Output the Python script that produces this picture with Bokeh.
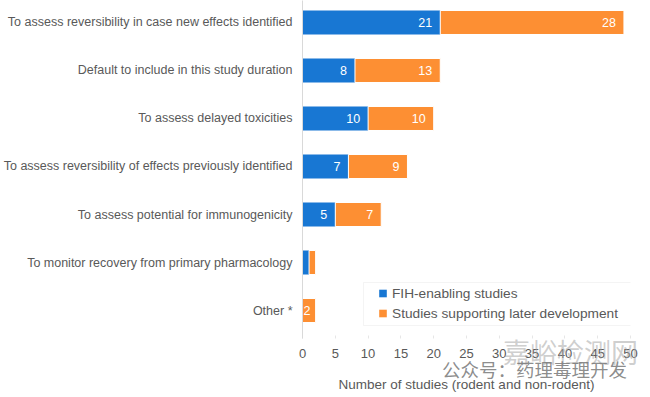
from bokeh.plotting import figure
from bokeh.models import ColumnDataSource, FixedTicker, Legend, LegendItem, Div, BoxAnnotation
from bokeh.layouts import column
from bokeh.embed import file_html
from bokeh.resources import INLINE
from bokeh.core.properties import value

categories = [
    "To assess reversibility in case new effects identified",
    "Default to include in this study duration",
    "To assess delayed toxicities",
    "To assess reversibility of effects previously identified",
    "To assess potential for immunogenicity",
    "To monitor recovery from primary pharmacology",
    "Other *",
]
fih = [21, 8, 10, 7, 5, 1, 0]
later = [28, 13, 10, 9, 7, 1, 2]
show_label = [True, True, True, True, True, False, True]
x_ticks = [0, 5, 10, 15, 20, 25, 30, 35, 40, 45, 50]

BLUE = "#1877D3"
ORANGE = "#FD8F33"
GRAY = "#595959"
FONT = "Liberation Sans"

n = len(categories)
ypos = [n - 1 - i for i in range(n)]

src = ColumnDataSource(dict(
    y=ypos,
    fih=fih,
    total=[a + b for a, b in zip(fih, later)],
))

p = figure(width=650, height=397, output_backend="svg", toolbar_location=None,
           x_range=(0, 50), y_range=(-0.583, 6.458),
           min_border_left=302, min_border_right=20, min_border_top=0, min_border_bottom=59)
p.outline_line_color = None
p.grid.visible = False
p.background_fill_color = "white"
p.border_fill_color = "white"

r1 = p.hbar(y="y", left=0, right="fih", height=0.5, source=src, fill_color=BLUE, line_color=None)
r2 = p.hbar(y="y", left="fih", right="total", height=0.5, source=src, fill_color=ORANGE,
            line_color="white", line_width=1)

# value labels
lx, ly, lt, la, lo = [], [], [], [], []
for i in range(n):
    if not show_label[i]:
        continue
    if fih[i] > 0:
        lx.append(fih[i]); ly.append(ypos[i]); lt.append(str(fih[i])); la.append("right"); lo.append(-8)
    if later[i] > 0:
        if later[i] >= 4:
            lx.append(fih[i] + later[i]); la.append("right"); lo.append(-8)
        else:
            lx.append(fih[i] + later[i] / 2); la.append("center"); lo.append(-2)
        ly.append(ypos[i]); lt.append(str(later[i]))
lsrc = ColumnDataSource(dict(x=lx, y=ly, t=lt, a=la, o=lo))
p.text(x="x", y="y", text="t", source=lsrc, text_align="a", x_offset="o",
       text_baseline="middle", text_color="white", text_font_size="12.5px",
       text_font=value(FONT))

# axes
p.yaxis.ticker = FixedTicker(ticks=ypos)
p.yaxis.major_label_overrides = {ypos[i]: categories[i] for i in range(n)}
p.yaxis.axis_line_color = "#D9D9D9"
p.yaxis.major_tick_line_color = None
p.yaxis.major_tick_in = 0
p.yaxis.major_tick_out = 0
p.yaxis.minor_tick_line_color = None
p.yaxis.minor_tick_out = 0
p.yaxis.major_label_standoff = 10
p.yaxis.major_label_text_color = GRAY
p.yaxis.major_label_text_font_size = "12.5px"
p.yaxis.major_label_text_font = FONT

p.xaxis.ticker = FixedTicker(ticks=x_ticks)
p.xaxis.axis_line_color = None
p.xaxis.major_tick_line_color = "#E6E6E6"
p.xaxis.major_tick_in = 3
p.xaxis.major_tick_out = 0
p.xaxis.minor_tick_line_color = None
p.xaxis.major_label_standoff = 10
p.xaxis.major_label_text_color = GRAY
p.xaxis.major_label_text_font_size = "13px"
p.xaxis.major_label_text_font = FONT
p.xaxis.axis_label = "Number of studies (rodent and non-rodent)"
p.xaxis.axis_label_text_font_style = "normal"
p.xaxis.axis_label_text_color = GRAY
p.xaxis.axis_label_text_font_size = "13.5px"
p.xaxis.axis_label_text_font = FONT
p.xaxis.axis_label_standoff = 16

# legend frame (screen units, relative to the plot frame)
p.add_layout(BoxAnnotation(left=61, right=330, bottom=13, top=56,
                           left_units="screen", right_units="screen",
                           bottom_units="screen", top_units="screen",
                           fill_color="white", fill_alpha=1.0,
                           line_color="#D9D9D9", line_width=1))

# legend (marker renderers of size 0: only their legend swatches are seen)
lg1 = p.scatter(x="fih", y="y", source=src, size=0, marker="square", fill_color=BLUE, line_color=None)
lg2 = p.scatter(x="total", y="y", source=src, size=0, marker="square", fill_color=ORANGE, line_color=None)
legend = Legend(items=[LegendItem(label="FIH-enabling studies", renderers=[lg1]),
                       LegendItem(label="Studies supporting later development", renderers=[lg2])],
                location=(71, 15), orientation="vertical",
                padding=0, margin=0, spacing=0, glyph_width=19, glyph_height=20, label_height=20,
                label_standoff=0,
                border_line_color=None, background_fill_color=None, background_fill_alpha=0,
                label_text_font_size="13.7px", label_text_color=GRAY, label_text_font=FONT)
p.add_layout(legend, "center")

# watermark overlay texts
CJK = "'Noto Sans CJK SC', sans-serif"
wm1 = Div(text="嘉峪检测网", width=150, height=30,
          styles={"position": "absolute", "left": "503px", "top": "338px", "margin": "0",
                  "padding": "0", "font-family": CJK, "font-size": "27px", "line-height": "27px",
                  "color": "rgba(165,165,165,0.55)", "white-space": "nowrap", "z-index": "10",
                  "pointer-events": "none"})
wm2 = Div(text="公众号：药理毒理开发", width=200, height=22,
          styles={"position": "absolute", "left": "442px", "top": "360px", "margin": "0",
                  "padding": "0", "font-family": CJK, "font-size": "18.5px", "line-height": "19px",
                  "color": "rgba(120,120,120,0.85)", "white-space": "nowrap", "z-index": "10",
                  "pointer-events": "none"})

layout = column(p, wm1, wm2, spacing=0)
open("out.html", "w").write(file_html(layout, INLINE))
